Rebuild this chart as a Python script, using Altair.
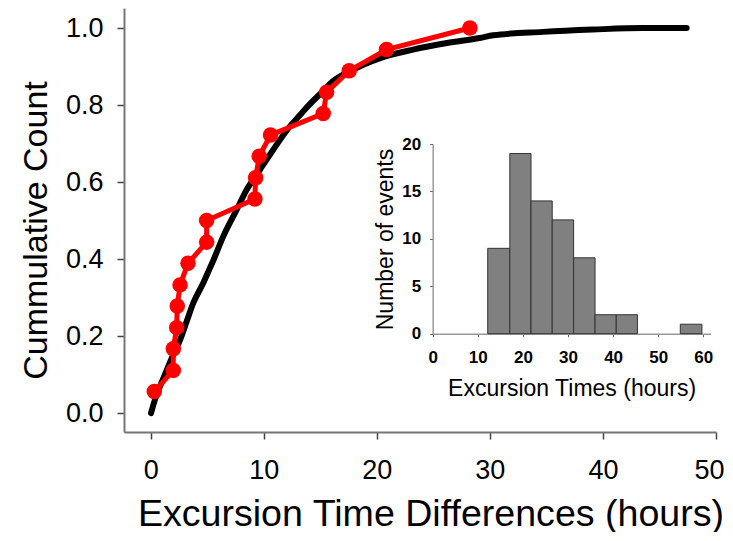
import altair as alt
import pandas as pd

# Black cumulative curve
cdf_x = [0.03, 0.38, 1.26, 1.9, 2.6, 3.18, 3.77, 4.65, 5.24, 5.5, 6.42, 7.6, 8.49, 9.66,
         10.84, 12.3, 12.6, 13.5, 14.1, 15.3, 15.85, 17.9, 20.3, 23.2, 26.2, 29.1, 30.3,
         34.7, 39.1, 43.55, 47.4]
cdf_y = [0.0, 0.035, 0.10, 0.145, 0.19, 0.238, 0.286, 0.338, 0.377, 0.394, 0.459, 0.528,
         0.58, 0.632, 0.684, 0.744, 0.754, 0.784, 0.803, 0.838, 0.855, 0.892, 0.922, 0.944,
         0.961, 0.974, 0.981, 0.99, 0.996, 1.0, 1.0]

# Red series
red_x = [0.32, 2.0, 2.0, 2.3, 2.35, 2.6, 3.3, 4.95, 4.95, 9.22, 9.28, 9.6, 10.6, 15.26,
         15.56, 17.56, 20.86, 28.23]
red_y = [0.056, 0.111, 0.167, 0.222, 0.278, 0.333, 0.389, 0.444, 0.5, 0.556, 0.611, 0.667,
         0.722, 0.778, 0.833, 0.889, 0.944, 1.0]

# Inset histogram
bin_start = [12.2, 17.1, 21.8, 26.5, 31.25, 36.0, 40.7, 45.4, 50.1, 54.9]
bin_end = [17.1, 21.8, 26.5, 31.25, 36.0, 40.7, 45.4, 50.1, 54.9, 59.7]
counts = [9, 19, 14, 12, 8, 2, 2, 0, 0, 1]

main_x_ticks = [0, 10, 20, 30, 40, 50]
main_y_ticks = [0.0, 0.2, 0.4, 0.6, 0.8, 1.0]
inset_x_ticks = [0, 10, 20, 30, 40, 50, 60]
inset_y_ticks = [0, 5, 10, 15, 20]

cdf_df = pd.DataFrame({"x": cdf_x, "y": cdf_y})
red_df = pd.DataFrame({"x": red_x, "y": red_y})
hist_df = pd.DataFrame({"start": bin_start, "end": bin_end, "count": counts})
hist_df = hist_df[hist_df["count"] > 0].copy()
hist_df["base"] = 0

FONT = "Liberation Sans"

xs = alt.Scale(domain=[-2.36, 50], nice=False, zero=False)
ys = alt.Scale(domain=[-0.049, 1.052], nice=False, zero=False)

x_axis = alt.Axis(values=main_x_ticks, title="Excursion Time Differences (hours)",
                  orient="bottom", grid=False, labelFontSize=27, titleFontSize=37.6,
                  labelPadding=18, titlePadding=12, tickSize=7, labelFlush=1,
                  labelFlushOffset=8, titleX=306.5)
y_axis = alt.Axis(values=main_y_ticks, format=".1f", title="Cummulative Count",
                  orient="left", grid=False, labelFontSize=27, titleFontSize=34,
                  labelPadding=14, titlePadding=12, tickSize=7, titleY=222)

black = alt.Chart(cdf_df).mark_line(color="black", strokeWidth=6, strokeCap="round",
                                    strokeJoin="round", interpolate="monotone").encode(
    x=alt.X("x:Q", scale=xs, axis=x_axis),
    y=alt.Y("y:Q", scale=ys, axis=y_axis),
    order="x:Q",
)

red_line = alt.Chart(red_df).mark_line(color="#ff0000", strokeWidth=5).encode(
    x=alt.X("x:Q", scale=xs),
    y=alt.Y("y:Q", scale=ys),
    order=alt.Order("y:Q"),
)
red_pts = alt.Chart(red_df).mark_circle(color="#ff0000", size=240, opacity=1).encode(
    x=alt.X("x:Q", scale=xs),
    y=alt.Y("y:Q", scale=ys),
)

main = alt.layer(black, red_line, red_pts)

ixs = alt.Scale(domain=[0, 61.6], range=[308.7, 586.5], nice=False, zero=False)
iys = alt.Scale(domain=[0, 20], range=[325.7, 136], nice=False, zero=False)

inset = alt.Chart(hist_df).mark_rect(color="#808080", stroke="#333333",
                                     strokeWidth=1).encode(
    x=alt.X("start:Q", scale=ixs,
            axis=alt.Axis(values=inset_x_ticks, orient="bottom", offset=-98.3,
                          title="Excursion Times (hours)", grid=False,
                          labelFontSize=17, labelFontWeight="bold", titleFontSize=23,
                          tickSize=3, labelPadding=13, titlePadding=12,
                          domainColor="#999999", domainWidth=1.5, tickWidth=1,
                          tickColor="#666666", labelFlush=False)),
    x2="end:Q",
    y=alt.Y("count:Q", scale=iys,
            axis=alt.Axis(values=inset_y_ticks, orient="left", offset=-308.7,
                          title="Number of events", grid=False,
                          labelFontSize=17, labelFontWeight="bold", titleFontSize=23,
                          tickSize=3, labelPadding=9, titlePadding=4,
                          domainColor="#999999", domainWidth=1.5, tickWidth=1,
                          tickColor="#666666", titleY=231)),
    y2="base:Q",
)

chart = alt.layer(main, inset).resolve_scale(x="independent", y="independent").properties(
    width=592, height=424,
    autosize=alt.AutoSizeParams(type="none"),
    padding={"left": 116, "top": 0, "right": 9, "bottom": 100},
).configure_view(strokeOpacity=0).configure_axis(
    labelFont=FONT, titleFont=FONT, labelColor="black", titleColor="black",
    titleFontWeight="normal", domainColor="#777777", domainWidth=2,
    tickColor="#444444", tickWidth=1.5,
)

chart.save("out.html", embed_options={"renderer": "svg", "actions": False})
